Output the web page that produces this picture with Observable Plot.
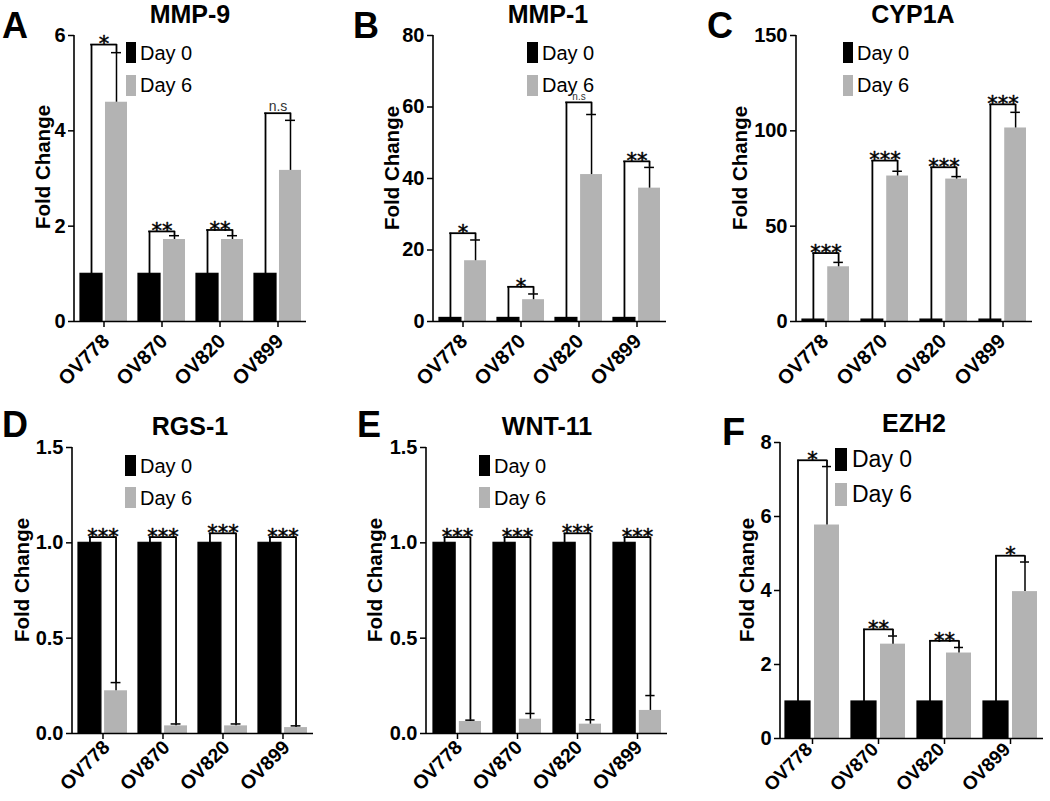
<!DOCTYPE html>
<html><head><meta charset="utf-8">
<script src="https://cdn.jsdelivr.net/npm/d3@7"></script>
<script src="https://cdn.jsdelivr.net/npm/@observablehq/plot@0.6"></script>
<style>
body{margin:0;background:#fff;}
#root{position:relative;width:1050px;height:801px;overflow:hidden;background:#fff;}
.pwrap{position:absolute;}
.pwrap svg{overflow:visible;}
</style></head><body><div id="root"></div>
<script>
// ---------- data ----------
const cellLines = ["OV778", "OV870", "OV820", "OV899"];
const seriesNames = ["Day 0", "Day 6"];

const mmp9Day0 = [1, 1, 1, 1];
const mmp9Day6 = [4.6, 1.72, 1.72, 3.17];
const mmp9Err = [5.64, 1.8, 1.8, 4.22];
const mmp9Bracket = [5.81, 1.89, 1.92, 4.37];
const mmp9Sig = ["*", "**", "**", "n.s"];

const mmp1Day0 = [1, 1, 1, 1];
const mmp1Day6 = [17.0, 6.1, 41.1, 37.3];
const mmp1Err = [22.8, 7.7, 57.9, 43.1];
const mmp1Bracket = [24.7, 9.7, 61.3, 44.8];
const mmp1Sig = ["*", "*", "n.s", "**"];

const cyp1aDay0 = [1, 1, 1, 1];
const cyp1aDay6 = [28.7, 76.3, 74.7, 101.5];
const cyp1aErr = [31.0, 78.8, 76.0, 109.7];
const cyp1aBracket = [35.9, 84.4, 80.9, 113.9];
const cyp1aSig = ["***", "***", "***", "***"];

const rgs1Day0 = [1, 1, 1, 1];
const rgs1Day6 = [0.224, 0.04, 0.04, 0.031];
const rgs1Err = [0.267, 0.05, 0.05, 0.04];
const rgs1Bracket = [1.03, 1.03, 1.05, 1.03];
const rgs1Sig = ["***", "***", "***", "***"];

const wnt11Day0 = [1, 1, 1, 1];
const wnt11Day6 = [0.063, 0.075, 0.049, 0.121];
const wnt11Err = [0.07, 0.105, 0.072, 0.199];
const wnt11Bracket = [1.03, 1.03, 1.05, 1.03];
const wnt11Sig = ["***", "***", "***", "***"];

const ezh2Day0 = [1, 1, 1, 1];
const ezh2Day6 = [5.77, 2.55, 2.31, 3.97];
const ezh2Err = [7.35, 2.77, 2.46, 4.77];
const ezh2Bracket = [7.52, 2.95, 2.64, 4.94];
const ezh2Sig = ["*", "**", "**", "*"];

const mmp9Ticks = [0, 2, 4, 6];
const mmp1Ticks = [0, 20, 40, 60, 80];
const cyp1aTicks = [0, 50, 100, 150];
const rgs1Ticks = [0, 0.5, 1.0, 1.5];
const wnt11Ticks = [0, 0.5, 1.0, 1.5];
const ezh2Ticks = [0, 2, 4, 6, 8];

const panels = [
  {gene: "MMP-9", letter: "A", day0: mmp9Day0, day6: mmp9Day6, err: mmp9Err, bracket: mmp9Bracket, sig: mmp9Sig, ticks: mmp9Ticks, fmt: d3.format("d")},
  {gene: "MMP-1", letter: "B", day0: mmp1Day0, day6: mmp1Day6, err: mmp1Err, bracket: mmp1Bracket, sig: mmp1Sig, ticks: mmp1Ticks, fmt: d3.format("d")},
  {gene: "CYP1A", letter: "C", day0: cyp1aDay0, day6: cyp1aDay6, err: cyp1aErr, bracket: cyp1aBracket, sig: cyp1aSig, ticks: cyp1aTicks, fmt: d3.format("d")},
  {gene: "RGS-1", letter: "D", day0: rgs1Day0, day6: rgs1Day6, err: rgs1Err, bracket: rgs1Bracket, sig: rgs1Sig, ticks: rgs1Ticks, fmt: d3.format(".1f")},
  {gene: "WNT-11", letter: "E", day0: wnt11Day0, day6: wnt11Day6, err: wnt11Err, bracket: wnt11Bracket, sig: wnt11Sig, ticks: wnt11Ticks, fmt: d3.format(".1f")},
  {gene: "EZH2", letter: "F", day0: ezh2Day0, day6: ezh2Day6, err: ezh2Err, bracket: ezh2Bracket, sig: ezh2Sig, ticks: ezh2Ticks, fmt: d3.format("d")}
];

// ---------- layout / style ----------
const GREY = "#b3b3b3";
const FONT = "'Liberation Sans', Arial, Helvetica, sans-serif";
const layouts = [
  {left: 0,   top: 0,   width: 350, height: 400, ml: 74, mt: 35, mb: 79, mr: 44, po: 0.095, pi: 0.19, ns: 14, lx: 6.5, ly: 21, lf: 20,
   title: [190, 23], letter: [2, 38], ylab: [45, 167], leg: {x: 126, w: 10, h: 21, y: [42, 75], tx: 140, tb: [60, 92], fs: 20}},
  {left: 350, top: 0,   width: 350, height: 400, ml: 83, mt: 35, mb: 79, mr: 34, po: 0.095, pi: 0.19, ns: 10, lx: 5.5, ly: 21, lf: 20,
   title: [548, 23], letter: [353, 38], ylab: [394, 168], leg: {x: 527, w: 11, h: 21, y: [42, 75], tx: 542, tb: [60, 92], fs: 20}},
  {left: 700, top: 0,   width: 350, height: 400, ml: 96, mt: 35, mb: 79, mr: 18, po: 0.09, pi: 0.2, ns: 12, lx: 3.5, ly: 21, lf: 20,
   title: [913, 23], letter: [707, 38], ylab: [742, 168], leg: {x: 843, w: 10, h: 21, y: [42, 75], tx: 857, tb: [60, 92], fs: 20}},
  {left: 0,   top: 400, width: 350, height: 401, ml: 72, mt: 47, mb: 68, mr: 37, po: 0.08, pi: 0.19, ns: 12, lx: 8, ly: 15, lf: 19.5,
   title: [190, 435], letter: [2, 437], ylab: [24, 580], leg: {x: 125, w: 11, h: 21, y: [455, 487], tx: 140, tb: [473, 505], fs: 20}},
  {left: 350, top: 400, width: 350, height: 401, ml: 76, mt: 47, mb: 68, mr: 33, po: 0.08, pi: 0.2, ns: 12, lx: 6, ly: 15, lf: 19.5,
   title: [547, 435], letter: [357, 437], ylab: [377, 580], leg: {x: 479, w: 11, h: 21, y: [455, 487], tx: 494, tb: [473, 505], fs: 20}},
  {left: 700, top: 400, width: 350, height: 401, ml: 80, mt: 42, mb: 63, mr: 7, po: 0.06, pi: 0.175, ns: 12, lx: 1, ly: 12, lf: 19,
   title: [914, 432], letter: [722, 445], ylab: [749, 580], leg: {x: 835, w: 12, h: 23, y: [448, 483], tx: 852, tb: [467, 502], fs: 23}}
];

const root = document.getElementById("root");

panels.forEach((p, k) => {
  const L = layouts[k];
  const rows = cellLines.map((c, i) => ({cell: c, day0: p.day0[i], day6: p.day6[i], err: p.err[i], bracket: p.bracket[i], sig: p.sig[i]}));
  const xOpts = {type: "band", domain: cellLines, paddingInner: L.pi, paddingOuter: L.po};
  const bw = Plot.scale({x: {...xOpts, range: [L.ml, L.width - L.mr]}}).bandwidth;
  const half = bw / 2 + 1.5;      // split band into two bars with a 3px gap
  const off = bw / 4 + 0.75;      // centre offset of each bar from band centre
  const cap = 5;
  const yDomain = [p.ticks[0], p.ticks[p.ticks.length - 1]];
  const stars = rows.filter(r => r.sig !== "n.s");
  const ns = rows.filter(r => r.sig === "n.s");

  const chart = Plot.plot({
    width: L.width, height: L.height,
    marginLeft: L.ml, marginRight: L.mr, marginTop: L.mt, marginBottom: L.mb,
    x: {...xOpts, label: null, axis: null},
    y: {domain: yDomain, label: null, axis: null},
    style: {fontFamily: FONT, background: "transparent", overflow: "visible", color: "black"},
    marks: [
      Plot.barY(rows, {x: "cell", y: "day6", fill: GREY, insetLeft: half}),
      Plot.barY(rows, {x: "cell", y: "day0", fill: "black", stroke: "black", strokeWidth: 1.2, insetRight: half}),
      // error bars
      Plot.ruleX(rows, {x: "cell", y1: "day6", y2: "err", dx: off, stroke: "black", strokeWidth: 1.5}),
      Plot.ruleY(rows, {x1: "cell", x2: "cell", y: "err", insetLeft: bw / 2 + off - cap, insetRight: bw / 2 - off - cap, stroke: "black", strokeWidth: 1.5}),
      // significance brackets
      Plot.ruleY(rows, {x1: "cell", x2: "cell", y: "bracket", insetLeft: bw / 2 - off - 0.8, insetRight: bw / 2 - off - 0.8, stroke: "black", strokeWidth: 1.8}),
      Plot.ruleX(rows, {x: "cell", y1: "day0", y2: "bracket", dx: -off, stroke: "black", strokeWidth: 1.8}),
      Plot.ruleX(rows, {x: "cell", y1: "err", y2: "bracket", dx: off, stroke: "black", strokeWidth: 1.8}),
      Plot.text(stars, {x: "cell", y: "bracket", text: "sig", fontFamily: "'DejaVu Sans', sans-serif", fontSize: 21, lineAnchor: "middle", fill: "black", stroke: "black", strokeWidth: 0.5}),
      Plot.text(ns, {x: "cell", y: "bracket", text: "sig", fontFamily: FONT, fontSize: L.ns, lineAnchor: "bottom", dy: -2, fill: "#333"}),
      // axes
      Plot.ruleY([yDomain[0]], {stroke: "black", strokeWidth: 1.6}),
      Plot.axisY({ticks: p.ticks, tickFormat: p.fmt, tickSize: 6, tickPadding: 3, fontSize: 20, fontWeight: "bold", stroke: "black", strokeWidth: 1.5, fill: "black", label: null}),
      Plot.axisX({tickSize: 6, tickFormat: () => "", stroke: "black", strokeWidth: 1.5, label: null}),
      Plot.text(rows, {x: "cell", frameAnchor: "bottom", text: "cell", rotate: -45, textAnchor: "end", fontSize: L.lf, fontWeight: "bold", fill: "black", dx: L.lx, dy: L.ly})
    ]
  });

  // y axis line
  const ys = chart.scale("y").range;
  d3.select(chart).append("line")
    .attr("x1", L.ml).attr("x2", L.ml)
    .attr("y1", Math.min(...ys)).attr("y2", Math.max(...ys))
    .attr("stroke", "black").attr("stroke-width", 1.6);

  const wrap = document.createElement("div");
  wrap.className = "pwrap";
  wrap.style.left = L.left + "px";
  wrap.style.top = L.top + "px";
  wrap.appendChild(chart);
  root.appendChild(wrap);
});

// ---------- overlay: titles, letters, y labels, legends ----------
const ov = d3.select(root).append("svg")
  .attr("width", 1050).attr("height", 801)
  .style("position", "absolute").style("left", 0).style("top", 0)
  .style("font-family", FONT);

panels.forEach((p, k) => {
  const L = layouts[k];
  ov.append("text").attr("x", L.title[0]).attr("y", L.title[1])
    .attr("text-anchor", "middle").attr("font-weight", "bold").attr("font-size", 25).text(p.gene);
  ov.append("text").attr("x", L.letter[0]).attr("y", L.letter[1])
    .attr("font-weight", "bold").attr("font-size", k === 5 ? 38 : 36).text(p.letter);
  ov.append("text").attr("transform", `translate(${L.ylab[0]},${L.ylab[1]}) rotate(-90)`)
    .attr("text-anchor", "middle").attr("dy", "0.25em").attr("font-weight", "bold").attr("font-size", 20.5).text("Fold Change");
  const g = L.leg;
  seriesNames.forEach((s, j) => {
    ov.append("rect").attr("x", g.x).attr("y", g.y[j]).attr("width", g.w).attr("height", g.h)
      .attr("fill", j === 0 ? "black" : GREY);
    ov.append("text").attr("x", g.tx).attr("y", g.tb[j]).attr("font-size", g.fs).text(s);
  });
});
</script>
</body></html>
